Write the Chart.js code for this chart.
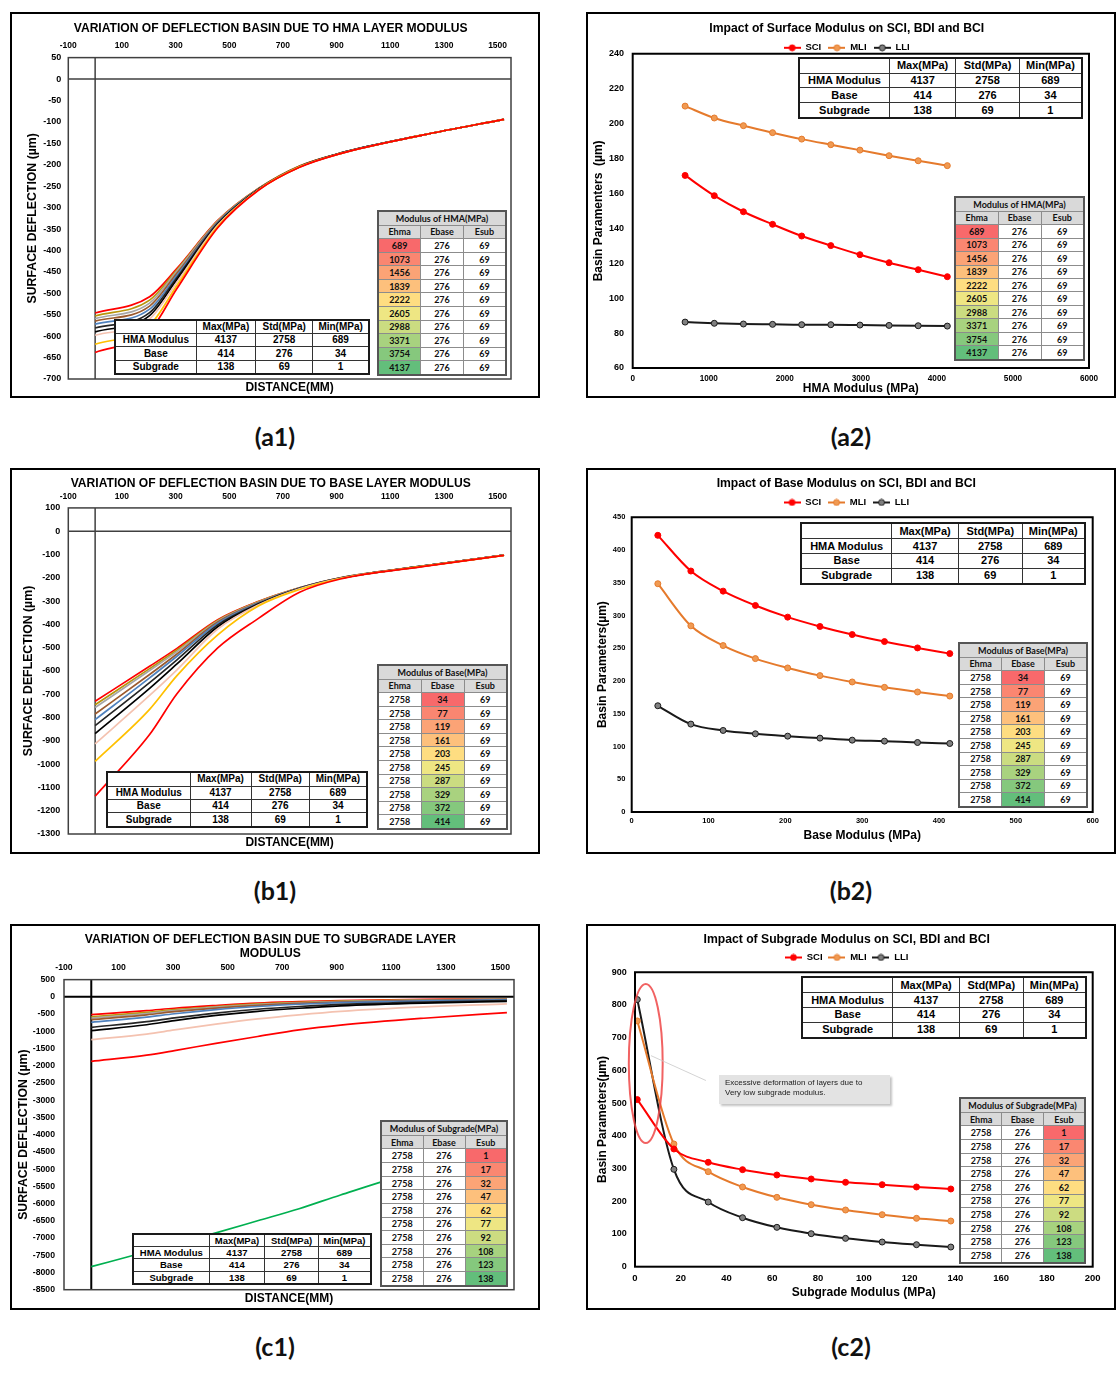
<!DOCTYPE html>
<html>
<head>
<meta charset="utf-8">
<script src="https://cdn.jsdelivr.net/npm/chart.js@4.4.1/dist/chart.umd.min.js"></script>
<style>
body{margin:0;background:#fff;width:1118px;height:1374px;position:relative;overflow:hidden}
.panel{position:absolute;width:530px;height:386px;box-sizing:border-box;border:2px solid #000;background:#fff}
.panel canvas{position:absolute;left:0;top:0}
.lbl{position:absolute;width:120px;text-align:center;font:700 25px Lato,sans-serif;line-height:30px;color:#111}
.par{position:absolute;border-collapse:collapse;table-layout:fixed;background:#fff;font-family:'Liberation Sans',Arial,sans-serif;font-weight:bold;color:#000;border:2px solid #1a1a1a}
.par td{border:1.5px solid #333;text-align:center;padding:0;line-height:1;white-space:nowrap;overflow:hidden}
.mod{position:absolute;border-collapse:collapse;table-layout:fixed;background:#fff;font:700 9px Lato,sans-serif;color:#111;border:2px solid #555}
.mod td{border:1px solid #8c8c8c;text-align:center;padding:0;line-height:1;white-space:nowrap}
.mod td.hd{background:#d9d9d9}
.note{position:absolute;background:#e3e3e3;box-shadow:2px 2px 2px #c4c4c4;font:8px 'Liberation Sans',Arial,sans-serif;color:#222;line-height:10px;padding:3px 0 0 6px;box-sizing:border-box}
</style>
</head>
<body>
<div class="panel" id="pa1" style="left:10px;top:12px"><canvas id="a1" width="526" height="382"></canvas></div>
<div class="panel" id="pa2" style="left:586px;top:12px"><canvas id="a2" width="526" height="382"></canvas></div>
<div class="panel" id="pb1" style="left:10px;top:468px"><canvas id="b1" width="526" height="382"></canvas></div>
<div class="panel" id="pb2" style="left:586px;top:468px"><canvas id="b2" width="526" height="382"></canvas></div>
<div class="panel" id="pc1" style="left:10px;top:924px"><canvas id="c1" width="526" height="382"></canvas></div>
<div class="panel" id="pc2" style="left:586px;top:924px"><canvas id="c2" width="526" height="382"></canvas></div>

<div class="lbl" style="left:215px;top:421px">(a1)</div>
<div class="lbl" style="left:791px;top:421px">(a2)</div>
<div class="lbl" style="left:215px;top:875px">(b1)</div>
<div class="lbl" style="left:791px;top:875px">(b2)</div>
<div class="lbl" style="left:215px;top:1331px">(c1)</div>
<div class="lbl" style="left:791px;top:1331px">(c2)</div>

<script>
// ---- data ----

// distance from load centre (mm) and the distance tick labels
const offsets = [0, 203, 305, 457, 610, 762, 914, 1219, 1524];
const distTicks = [-100, 100, 300, 500, 700, 900, 1100, 1300, 1500];

// layer moduli that were varied (MPa)
const hmaModuli = [689, 1073, 1456, 1839, 2222, 2605, 2988, 3371, 3754, 4137];
const baseModuli = [34, 77, 119, 161, 203, 245, 287, 329, 372, 414];
const subModuli = [1, 17, 32, 47, 62, 77, 92, 108, 123, 138];

// parameter table
const paramHeader = ['', 'Max(MPa)', 'Std(MPa)', 'Min(MPa)'];
const paramNames = ['HMA Modulus', 'Base', 'Subgrade'];
const paramMax = [4137, 414, 138];
const paramStd = [2758, 276, 69];
const paramMin = [689, 34, 1];
const modHeader = ['Ehma', 'Ebase', 'Esub'];

// (a1) surface deflection (um), one row per HMA modulus, columns = offsets
const a1Defl = [
  [-638, -588, -489, -347, -259, -206, -174, -131, -94],
  [-619, -575, -482, -344, -258, -205, -174, -131, -94],
  [-598, -560, -474, -341, -258, -205, -174, -131, -94],
  [-590, -552, -468, -339, -257, -205, -174, -131, -94],
  [-581, -545, -463, -337, -257, -204, -173, -131, -94],
  [-572, -537, -458, -335, -256, -204, -173, -131, -94],
  [-565, -530, -453, -334, -256, -204, -173, -131, -94],
  [-559, -523, -448, -332, -256, -204, -173, -131, -94],
  [-553, -516, -445, -331, -255, -203, -173, -131, -94],
  [-546, -508, -442, -330, -255, -203, -173, -131, -94]
];

// (b1) one row per base modulus
const b1Defl = [
  [-1138, -873, -698, -501, -373, -262, -205, -152, -104],
  [-988, -765, -620, -445, -320, -250, -203, -151, -104],
  [-913, -705, -595, -420, -316, -247, -202, -151, -103],
  [-869, -675, -570, -410, -313, -246, -202, -151, -103],
  [-835, -650, -552, -402, -311, -245, -201, -150, -103],
  [-809, -630, -537, -395, -308, -244, -201, -150, -103],
  [-785, -615, -527, -390, -306, -244, -201, -150, -103],
  [-757, -598, -517, -386, -304, -243, -200, -150, -103],
  [-745, -590, -510, -383, -302, -243, -200, -150, -103],
  [-730, -580, -503, -380, -301, -243, -200, -150, -103]
];

// (c1) one row per subgrade modulus
const c1Defl = [
  [-7832, -7400, -7180, -6850, -6500, -6150, -5750, -5000, -4400],
  [-1871, -1690, -1560, -1350, -1150, -960, -820, -620, -458],
  [-1242, -1080, -960, -790, -640, -520, -420, -290, -206],
  [-981, -810, -690, -540, -420, -330, -260, -180, -130],
  [-884, -720, -610, -470, -360, -280, -220, -150, -110],
  [-739, -590, -490, -370, -280, -215, -170, -115, -85],
  [-660, -520, -430, -325, -245, -190, -150, -102, -75],
  [-620, -485, -400, -300, -225, -175, -137, -93, -68],
  [-580, -450, -370, -280, -205, -160, -125, -85, -62],
  [-516, -400, -330, -250, -180, -140, -110, -75, -55]
];

// basin indices (um)
const a2Sci = [170.3, 158.7, 149.5, 142.3, 135.6, 130.1, 124.9, 120.3, 116.3, 112.3];
const a2Mli = [210.0, 203.2, 198.8, 194.8, 191.1, 187.9, 184.8, 181.6, 178.7, 175.9];
const a2Lli = [86.3, 85.6, 85.2, 85.0, 84.8, 84.8, 84.6, 84.4, 84.2, 84.0];

const b2Sci = [422.4, 367.9, 337.2, 315.3, 297.5, 283.2, 270.9, 260.2, 250.5, 241.8];
const b2Mli = [348.5, 284.2, 254.1, 234.2, 219.9, 208.2, 198.5, 190.3, 183.2, 177.0];
const b2Lli = [162.2, 134.2, 124.5, 119.4, 115.8, 112.8, 109.7, 108.2, 106.1, 104.6];

const c2Sci = [510.7, 359.8, 319.0, 296.6, 280.3, 268.1, 257.9, 250.7, 243.6, 237.5];
const c2Mli = [751.2, 375.1, 290.5, 243.6, 212.0, 189.6, 173.3, 159.0, 147.8, 139.6];
const c2Lli = [816.5, 297.6, 197.7, 149.8, 120.3, 100.9, 86.6, 75.4, 67.3, 60.1];

// c2 call-out (data coordinates)
const noteEllipse = {cx: 4.7, cy: 621, rx: 7.4, ry: 243};
const noteLeader = [[7, 645], [31, 569]];

// ---- styles ----
const FONT = "'Liberation Sans', Arial, sans-serif";
Chart.defaults.font.family = FONT;
Chart.defaults.color = '#000';

const basinColours = ['#ff0000', '#ffc000', '#f4c2b0', '#000000', '#262626', '#4f81bd', '#9c5a2e', '#a6a6a6', '#b8960c', '#ff0000'];
const subColours = ['#00b050', '#ff0000', '#f4c2b0', '#000000', '#262626', '#4f81bd', '#9c5a2e', '#a6a6a6', '#b8960c', '#ff0000'];

const plain = v => String(v);
const bold = (size) => ({family: FONT, size: size, weight: 'bold'});

// empty right-hand axis, only used to keep space right of the plot
function spacer(width) {
  return {
    position: 'right', display: true,
    grid: {display: false, drawTicks: false}, border: {display: false}, ticks: {display: false},
    afterFit: s => { s.width = width; }
  };
}

// plot-area box
const framePlugin = {
  id: 'frame',
  afterDatasetsDraw(chart, args, o) {
    const {ctx, chartArea: a} = chart;
    ctx.save();
    ctx.strokeStyle = o.color || '#000';
    ctx.lineWidth = o.width || 1;
    ctx.strokeRect(a.left, a.top, a.right - a.left, a.bottom - a.top);
    ctx.restore();
  }
};

// x = 0 and y = 0 lines of the deflection charts
const zeroPlugin = {
  id: 'zeroLines',
  beforeDatasetsDraw(chart, args, o) {
    const {ctx, chartArea: a, scales: {x, y}} = chart;
    const px = x.getPixelForValue(0), py = y.getPixelForValue(0);
    ctx.save();
    ctx.strokeStyle = o.color || '#333';
    ctx.lineWidth = o.width || 1.5;
    ctx.beginPath();
    ctx.moveTo(px, a.top); ctx.lineTo(px, a.bottom);
    ctx.moveTo(a.left, py); ctx.lineTo(a.right, py);
    ctx.stroke();
    ctx.restore();
  }
};

// red ellipse + leader on c2
const notePlugin = {
  id: 'note',
  afterDatasetsDraw(chart) {
    const {ctx, scales: {x, y}} = chart;
    const cx = x.getPixelForValue(noteEllipse.cx), cy = y.getPixelForValue(noteEllipse.cy);
    const rx = x.getPixelForValue(noteEllipse.cx + noteEllipse.rx) - cx;
    const ry = cy - y.getPixelForValue(noteEllipse.cy + noteEllipse.ry);
    ctx.save();
    ctx.strokeStyle = 'rgba(238,70,70,0.85)';
    ctx.lineWidth = 2;
    ctx.beginPath();
    ctx.ellipse(cx, cy, rx, ry, 0, 0, Math.PI * 2);
    ctx.stroke();
    ctx.strokeStyle = '#c8c8c8';
    ctx.lineWidth = 0.8;
    ctx.beginPath();
    ctx.moveTo(x.getPixelForValue(noteLeader[0][0]), y.getPixelForValue(noteLeader[0][1]));
    ctx.lineTo(x.getPixelForValue(noteLeader[1][0]), y.getPixelForValue(noteLeader[1][1]));
    ctx.stroke();
    ctx.restore();
  }
};

function basinChart(id, rows, colours, cfg) {
  new Chart(document.getElementById(id), {
    type: 'line',
    data: {
      datasets: rows.map((r, i) => ({
        data: offsets.map((x, j) => ({x: x, y: r[j]})),
        borderColor: colours[i],
        borderWidth: 1.7,
        pointRadius: 0,
        cubicInterpolationMode: 'monotone',
        fill: false
      }))
    },
    options: {
      responsive: false,
      animation: false,
      events: [],
      layout: {padding: {left: 0, right: cfg.padRight, top: 0, bottom: 0}},
      plugins: {
        legend: {display: false},
        tooltip: {enabled: false},
        title: {display: true, text: cfg.title, color: '#000', font: bold(12.1), padding: {top: cfg.titleTop, bottom: 0}},
        frame: {color: '#404040', width: 1.5},
        zeroLines: {color: cfg.zeroColour, width: cfg.zeroWidth}
      },
      scales: {
        x: {
          type: 'linear', position: 'top', min: -100, max: 1550,
          afterBuildTicks: s => { s.ticks = distTicks.map(v => ({value: v})); },
          afterFit: s => { s.height = cfg.xHeight; },
          grid: {display: false, drawTicks: false},
          border: {display: false},
          ticks: {autoSkip: false, maxRotation: 0, padding: cfg.xPad, font: bold(cfg.xFont), color: '#000', callback: plain}
        },
        xb: {
          type: 'linear', position: 'bottom', min: -100, max: 1550,
          afterFit: s => { s.height = cfg.xbHeight; },
          grid: {display: false, drawTicks: false},
          border: {display: false},
          ticks: {display: false},
          title: {display: true, text: 'DISTANCE(MM)', color: '#000', font: bold(12), padding: {top: 0, bottom: cfg.xbTitleBottom}}
        },
        y: {
          type: 'linear', min: cfg.yMin, max: cfg.yMax,
          afterFit: s => { s.width = cfg.yWidth; },
          grid: {display: false, drawTicks: false},
          border: {display: false},
          ticks: {stepSize: cfg.yStep, maxTicksLimit: 1000, autoSkip: false, padding: cfg.yPad, font: bold(cfg.yFont), color: '#000', callback: plain},
          title: {display: true, text: 'SURFACE DEFLECTION (\u00b5m)', color: '#000', font: bold(12.3), padding: {top: cfg.yTitleTop, bottom: 0}}
        },
        yr: spacer(cfg.rightGap)
      }
    },
    plugins: [framePlugin, zeroPlugin]
  });
}

function legendMark(line, fill) {
  const c = document.createElement('canvas');
  c.width = 17; c.height = 8;
  const g = c.getContext('2d');
  g.strokeStyle = line; g.lineWidth = 2;
  g.beginPath(); g.moveTo(0, 4); g.lineTo(17, 4); g.stroke();
  g.fillStyle = fill; g.lineWidth = 1;
  g.beginPath(); g.arc(8.5, 4, 3, 0, Math.PI * 2); g.fill(); g.stroke();
  return c;
}

function indexChart(id, xs, sci, mli, lli, cfg) {
  const series = [
    ['SCI', sci, '#ff0000', '#ff0000'],
    ['MLI', mli, '#e57a2c', '#f09a52'],
    ['LLI', lli, '#1a1a1a', '#808080']
  ];
  const plugins = [framePlugin];
  if (cfg.note) plugins.push(notePlugin);
  new Chart(document.getElementById(id), {
    type: 'line',
    data: {
      datasets: series.map(s => ({
        label: s[0],
        data: xs.map((x, i) => ({x: x, y: s[1][i]})),
        borderColor: s[2],
        backgroundColor: s[3],
        pointBackgroundColor: s[3],
        pointBorderColor: s[2],
        pointBorderWidth: 1,
        pointRadius: 3,
        borderWidth: 2,
        cubicInterpolationMode: 'monotone',
        fill: false
      }))
    },
    options: {
      responsive: false,
      animation: false,
      events: [],
      layout: {padding: {left: 0, right: cfg.padRight, top: 0, bottom: 0}},
      plugins: {
        tooltip: {enabled: false},
        title: {display: true, text: cfg.title, color: '#000', font: bold(12.2), padding: {top: cfg.titleTop, bottom: 0}},
        legend: {
          display: true, position: 'top', maxHeight: cfg.legendMax,
          labels: {
            usePointStyle: true, pointStyleWidth: 17, padding: cfg.legendPad, color: '#000', font: bold(9.5),
            generateLabels: chart => chart.data.datasets.map((d, i) => ({
              text: d.label, datasetIndex: i, hidden: false, fontColor: '#000',
              pointStyle: legendMark(d.borderColor, d.pointBackgroundColor),
              fillStyle: 'transparent', strokeStyle: 'transparent', lineWidth: 0
            }))
          }
        },
        frame: {color: '#000', width: 2}
      },
      scales: {
        x: {
          type: 'linear', position: 'bottom', min: cfg.xMin, max: cfg.xMax,
          afterFit: s => { s.height = cfg.xHeight; },
          grid: {display: false, drawTicks: false},
          border: {display: false},
          ticks: {stepSize: cfg.xStep, autoSkip: false, maxRotation: 0, padding: cfg.xPad, font: bold(cfg.xFont), color: '#000', callback: plain},
          title: {display: true, text: cfg.xTitle, color: '#000', font: bold(12), padding: {top: 0, bottom: cfg.xTitleBottom}}
        },
        y: {
          type: 'linear', min: cfg.yMin, max: cfg.yMax,
          afterFit: s => { s.width = cfg.yWidth; },
          grid: {display: false, drawTicks: false},
          border: {display: false},
          ticks: {stepSize: cfg.yStep, autoSkip: false, padding: cfg.yPad, font: bold(cfg.yFont), color: '#000', callback: plain},
          title: {display: true, text: cfg.yTitle, color: '#000', font: bold(12), padding: {top: cfg.yTitleTop, bottom: 0}}
        },
        yr: spacer(cfg.rightGap)
      }
    },
    plugins: plugins
  });
}

// Excel red-yellow-green colour scale (midpoint = median)
function excelScale(v, vals) {
  const s = [...vals].sort((a, b) => a - b);
  const n = s.length;
  const lo = s[0], hi = s[n - 1];
  const mid = n % 2 ? s[(n - 1) / 2] : (s[n / 2 - 1] + s[n / 2]) / 2;
  const red = [248, 105, 107], yel = [255, 235, 132], grn = [99, 190, 123];
  let a, b, t;
  if (v <= mid) { a = red; b = yel; t = (v - lo) / (mid - lo); }
  else { a = yel; b = grn; t = (v - mid) / (hi - mid); }
  return 'rgb(' + a.map((c, i) => Math.round(c + (b[i] - c) * t)).join(',') + ')';
}

function place(el, box) {
  el.style.left = box[0] + 'px';
  el.style.top = box[1] + 'px';
  el.style.width = box[2] + 'px';
  el.style.height = box[3] + 'px';
}

function paramTable(panelId, box, fontSize) {
  const t = document.createElement('table');
  t.className = 'par';
  place(t, box);
  t.style.fontSize = fontSize + 'px';
  const rows = [paramHeader].concat(paramNames.map((n, i) => [n, paramMax[i], paramStd[i], paramMin[i]]));
  const widths = ['32%', '23.5%', '22.5%', '22%'];
  rows.forEach((r, ri) => {
    const tr = t.insertRow();
    r.forEach((v, ci) => {
      const td = tr.insertCell();
      td.textContent = v;
      if (ri === 0) td.style.width = widths[ci];
    });
  });
  document.getElementById(panelId).appendChild(t);
}

function modulusTable(panelId, box, title, moduli, col) {
  const t = document.createElement('table');
  t.className = 'mod';
  place(t, box);
  const head = t.insertRow();
  const th = head.insertCell();
  th.colSpan = 3; th.className = 'hd'; th.textContent = title;
  const hr = t.insertRow();
  modHeader.forEach(h => { const td = hr.insertCell(); td.className = 'hd'; td.textContent = h; });
  moduli.forEach(v => {
    const row = [paramStd[0], paramStd[1], paramStd[2]];
    row[col] = v;
    const tr = t.insertRow();
    row.forEach((c, ci) => {
      const td = tr.insertCell();
      td.textContent = c;
      if (ci === col) td.style.background = excelScale(v, moduli);
    });
  });
  document.getElementById(panelId).appendChild(t);
}

// ---- charts ----
basinChart('a1', a1Defl, basinColours, {
  title: 'VARIATION OF DEFLECTION BASIN DUE TO HMA LAYER MODULUS',
  padRight: 8.6, rightGap: 18.4, titleTop: 7.2, xHeight: 21.9, xPad: 6.6, xFont: 8.5,
  xbHeight: 17, xbTitleBottom: 0.8, yWidth: 56.3, yPad: 7, yFont: 9, yTitleTop: 13.6,
  yMin: -700, yMax: 50, yStep: 50, zeroColour: '#404040', zeroWidth: 1.5
});

basinChart('b1', b1Defl, basinColours, {
  title: 'VARIATION OF DEFLECTION BASIN DUE TO BASE LAYER MODULUS',
  padRight: 8.6, rightGap: 18.4, titleTop: 6.2, xHeight: 17.2, xPad: 5.9, xFont: 8.5,
  xbHeight: 18, xbTitleBottom: 1.8, yWidth: 56.3, yPad: 8, yFont: 9, yTitleTop: 8.9,
  yMin: -1300, yMax: 100, yStep: 100, zeroColour: '#404040', zeroWidth: 1.5
});

basinChart('c1', c1Defl, subColours, {
  title: ['VARIATION OF DEFLECTION BASIN DUE TO SUBGRADE LAYER', 'MODULUS'],
  padRight: 9.4, rightGap: 14.6, titleTop: 6.2, xHeight: 18.4, xPad: 6.6, xFont: 8.7,
  xbHeight: 18.3, xbTitleBottom: 1.8, yWidth: 52, yPad: 9, yFont: 8.7, yTitleTop: 3.9,
  yMin: -8500, yMax: 500, yStep: 500, zeroColour: '#000', zeroWidth: 2
});

indexChart('a2', hmaModuli, a2Sci, a2Mli, a2Lli, {
  title: 'Impact of Surface Modulus on SCI, BDI and BCI',
  padRight: 8.6, rightGap: 16.4, titleTop: 7.2, legendPad: 7.2, legendMax: 17.9,
  xMin: 0, xMax: 6000, xStep: 1000, xHeight: 28, xPad: 5.8, xFont: 8.2,
  xTitle: 'HMA Modulus (MPa)', xTitleBottom: 0,
  yMin: 60, yMax: 240, yStep: 20, yWidth: 44.7, yPad: 8.7, yFont: 9,
  yTitle: 'Basin Paramenters  (\u00b5m)', yTitleTop: 3.8
});

indexChart('b2', baseModuli, b2Sci, b2Mli, b2Lli, {
  title: 'Impact of Base Modulus on SCI, BDI and BCI',
  padRight: 9.4, rightGap: 11.9, titleTop: 6.2, legendPad: 6.9, legendMax: 100,
  xMin: 0, xMax: 600, xStep: 100, xHeight: 40, xPad: 4.5, xFont: 7.5,
  xTitle: 'Base Modulus (MPa)', xTitleBottom: 9.1,
  yMin: 0, yMax: 450, yStep: 50, yWidth: 43.7, yPad: 6.4, yFont: 7.5,
  yTitle: 'Basin Parameters(\u00b5m)', yTitleTop: 7.5
});

indexChart('c2', subModuli, c2Sci, c2Mli, c2Lli, {
  title: 'Impact of Subgrade Modulus on SCI, BDI and BCI',
  padRight: 8.6, rightGap: 12.7, titleTop: 6.2, legendPad: 5.9, legendMax: 100,
  xMin: 0, xMax: 200, xStep: 20, xHeight: 41.3, xPad: 5.6, xFont: 9.5,
  xTitle: 'Subgrade Modulus (MPa)', xTitleBottom: 8.5,
  yMin: 0, yMax: 900, yStep: 100, yWidth: 47, yPad: 8.3, yFont: 9,
  yTitle: 'Basin Parameters(\u00b5m)', yTitleTop: 7.5, note: true
});

// ---- tables ----
paramTable('pa1', [102, 305, 256, 56], 10);
paramTable('pa2', [210, 43, 285, 62], 11);
paramTable('pb1', [94, 301, 262, 57], 10);
paramTable('pb2', [212, 52, 286, 63], 11);
paramTable('pc1', [120, 307, 240, 52], 9.5);
paramTable('pc2', [213, 50, 286, 63], 11);

modulusTable('pa1', [365, 196, 130, 166], 'Modulus of HMA(MPa)', hmaModuli, 0);
modulusTable('pa2', [366, 182, 131, 165], 'Modulus of HMA(MPa)', hmaModuli, 0);
modulusTable('pb1', [365, 194, 131, 166], 'Modulus of Base(MPa)', baseModuli, 1);
modulusTable('pb2', [370, 172, 130, 166], 'Modulus of Base(MPa)', baseModuli, 1);
modulusTable('pc1', [368, 194, 128, 167], 'Modulus of Subgrade(MPa)', subModuli, 2);
modulusTable('pc2', [371, 171, 127, 167], 'Modulus of Subgrade(MPa)', subModuli, 2);

const note = document.createElement('div');
note.className = 'note';
place(note, [131, 149, 171, 29]);
note.innerHTML = 'Excessive deformation of layers due to<br>Very low subgrade modulus.';
document.getElementById('pc2').appendChild(note);
</script>
</body>
</html>
